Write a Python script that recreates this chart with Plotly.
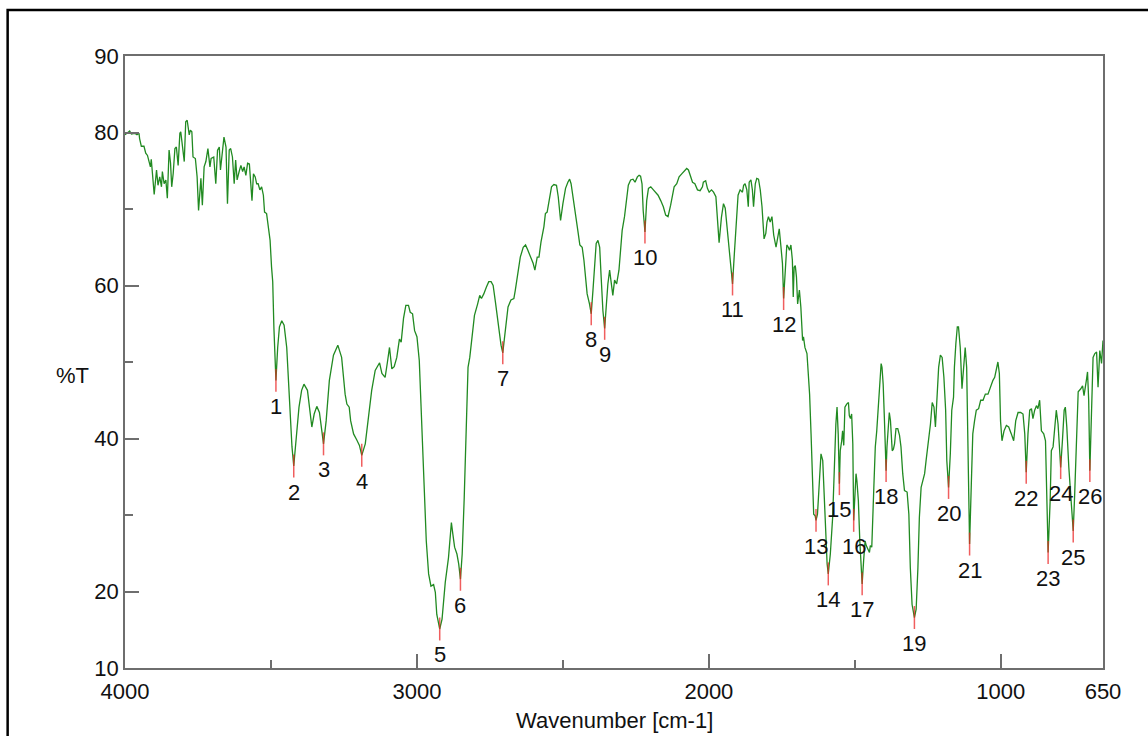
import plotly.graph_objects as go

# ---- spectrum data (wavenumber in cm-1, transmittance in %T) ----
wavenumber = [
    4000, 3984, 3978, 3967, 3959, 3952, 3950, 3944, 3935, 3929, 3923, 3918, 3913, 3910, 3904, 3900,
    3892, 3887, 3881, 3875, 3872, 3866, 3860, 3855, 3849, 3844, 3840, 3835, 3829, 3824, 3818, 3812,
    3809, 3803, 3797, 3792, 3787, 3780, 3776, 3771, 3767, 3759, 3753, 3748, 3744, 3740, 3735, 3729,
    3723, 3716, 3709, 3705, 3696, 3689, 3683, 3677, 3673, 3666, 3661, 3654, 3649, 3643, 3638, 3632,
    3626, 3621, 3616, 3609, 3603, 3597, 3592, 3586, 3580, 3574, 3570, 3565, 3560, 3554, 3549, 3544,
    3538, 3532, 3526, 3522, 3515, 3509, 3503, 3498, 3494, 3490,
    3487, 3483, 3477, 3471, 3463, 3455, 3446, 3435, 3428, 3422, 3414, 3404, 3395, 3387, 3375, 3368,
    3360, 3352, 3343, 3334, 3326, 3320, 3311, 3300, 3286, 3271, 3258, 3246, 3240, 3232, 3227, 3217,
    3206, 3197, 3189, 3177, 3166, 3155, 3143, 3135, 3128, 3120, 3109, 3101, 3094, 3086, 3078, 3069,
    3060, 3054, 3046, 3038, 3029, 3023, 3015, 3008, 3000, 2992, 2985, 2977, 2968, 2960, 2952, 2943,
    2937, 2932, 2922, 2914, 2903, 2892, 2882, 2877, 2871, 2863, 2857, 2851, 2845, 2838, 2831, 2825,
    2819, 2811, 2803, 2792, 2785, 2779, 2771, 2762, 2754, 2746, 2739, 2731, 2720, 2712, 2706, 2697,
    2688, 2678, 2668, 2663, 2655, 2646, 2636, 2628, 2620, 2611, 2602, 2596, 2588, 2582, 2575, 2565,
    2560, 2554, 2548, 2539, 2531, 2522, 2516, 2508, 2500, 2491, 2483, 2477, 2472, 2465, 2457, 2449,
    2442, 2434, 2428, 2423, 2417, 2409, 2403, 2397, 2392, 2386, 2380, 2374, 2369, 2363, 2357, 2352,
    2346, 2340, 2334, 2329, 2323, 2316, 2308, 2302, 2297, 2289, 2282, 2276, 2268, 2260, 2253, 2245,
    2239, 2234, 2229, 2225, 2219, 2213, 2207, 2199, 2190, 2182, 2174, 2165, 2156, 2148, 2140, 2131,
    2119, 2110, 2102, 2093, 2083, 2076, 2070, 2064, 2056, 2048, 2039, 2030, 2022, 2019, 2011, 2005,
    1999, 1991, 1984, 1976, 1971,
    1965, 1957, 1950, 1944, 1936, 1927, 1919, 1913, 1908, 1900, 1893, 1885, 1881, 1876, 1870, 1865,
    1862, 1856, 1851, 1847, 1841, 1836, 1830, 1824, 1818, 1811, 1805, 1801, 1796, 1790, 1784, 1778,
    1770, 1765, 1759, 1753, 1748, 1744, 1740, 1736, 1733, 1728, 1724, 1719, 1714, 1711, 1708, 1704,
    1700, 1696, 1690,
    1685, 1679, 1676, 1671, 1664, 1660, 1655, 1650, 1645, 1641, 1636, 1633, 1628, 1622, 1616, 1610,
    1607, 1601, 1595, 1591, 1584, 1576, 1570, 1565, 1561, 1557, 1553, 1550, 1545, 1542, 1538, 1534,
    1528, 1522, 1519, 1515, 1511, 1507, 1504, 1499, 1496, 1493, 1488, 1483, 1479, 1475, 1470, 1465,
    1461, 1456, 1450, 1447, 1442, 1435, 1430, 1425, 1419, 1415, 1410, 1407, 1403, 1399, 1393, 1390,
    1385, 1382, 1378, 1372, 1368, 1364, 1359, 1353, 1347, 1342, 1336, 1330, 1321, 1315, 1310, 1304,
    1296, 1290, 1284, 1279, 1273, 1267, 1261, 1256, 1250, 1241, 1235, 1229, 1224, 1219, 1213, 1207,
    1201, 1195, 1189, 1185, 1179, 1173, 1168, 1162, 1159, 1154, 1149, 1145, 1139, 1133, 1128, 1122,
    1117, 1113, 1107, 1101, 1096, 1090, 1084, 1076, 1069, 1061, 1053, 1044, 1035, 1027, 1021, 1016,
    1010, 1005, 1001, 996, 989, 981, 973, 964, 956, 949, 941, 932, 924, 918, 913, 907,
    901, 895, 890, 884, 878, 873, 867, 861, 853, 847, 842, 838, 831, 827, 821, 815,
    810, 804, 795, 789, 783, 779, 774, 767, 760, 755, 752, 747, 741, 735, 726, 720,
    715, 710, 707, 703, 699, 695, 690, 684, 678, 672, 667, 661, 655, 650,
]

transmittance = [
    79.7, 80.2, 79.8, 79.9, 79.7, 79.9, 79.2, 78.2, 78.2, 77.3, 77.0, 76.2, 75.5, 76.5, 74.2, 71.9,
    75.1, 73.1, 74.2, 72.9, 74.9, 73.3, 73.8, 71.4, 77.7, 76.0, 72.9, 74.6, 77.9, 78.1, 75.7, 79.9,
    80.1, 77.7, 76.2, 81.4, 81.6, 79.7, 80.3, 80.1, 76.8, 76.6, 74.2, 69.8, 72.9, 74.0, 70.5, 75.5,
    76.2, 77.9, 75.5, 76.6, 76.8, 73.3, 77.7, 78.1, 75.1, 77.3, 79.4, 78.1, 70.7, 77.7, 77.9, 76.8,
    73.3, 76.4, 73.8, 74.9, 75.7, 74.9, 75.5, 74.4, 76.0, 75.9, 74.2, 71.1, 74.6, 74.2, 73.3, 73.3,
    72.5, 72.9, 71.8, 69.6, 69.4, 67.7, 65.9, 62.4, 60.5, 54.5,
    50.6, 47.6, 51.9, 54.6, 55.4, 54.8, 51.9, 43.2, 38.9, 36.4, 39.7, 44.1, 46.3, 47.1, 46.3, 44.1,
    41.5, 43.2, 44.2, 43.4, 41.0, 39.3, 42.3, 47.6, 50.9, 52.2, 50.6, 45.8, 44.5, 44.1, 42.3, 40.6,
    39.8, 39.1, 37.8, 39.3, 42.8, 46.3, 48.9, 49.4, 49.9, 48.5, 48.0, 50.0, 51.9, 49.1, 49.4, 50.6,
    53.0, 52.6, 55.7, 57.4, 57.4, 56.5, 56.3, 54.1, 53.3, 50.2, 43.2, 34.5, 26.6, 22.3, 20.7, 20.9,
    19.9, 17.0, 15.1, 16.4, 21.2, 24.4, 29.0, 27.5, 25.8, 24.9, 23.6, 21.6, 24.9, 32.3, 43.2, 49.3,
    50.6, 53.3, 56.1, 57.6, 58.7, 58.3, 58.9, 59.8, 60.5, 60.5, 60.0, 57.8, 54.1, 52.2, 51.2, 54.6,
    57.2, 58.1, 58.3, 59.4, 61.5, 63.7, 65.0, 65.3, 64.6, 63.7, 62.9, 62.0, 63.7, 63.7, 65.7, 67.7,
    69.4, 69.6, 71.1, 72.9, 73.2, 73.1, 71.6, 68.5, 70.7, 72.7, 73.5, 73.9, 73.3, 71.6, 69.4, 67.2,
    65.3, 65.0, 63.3, 60.7, 58.9, 57.6, 56.3, 59.4, 62.9, 65.5, 65.9, 65.0, 61.1, 56.7, 54.4, 57.2,
    60.2, 62.0, 60.2, 58.7, 60.7, 60.2, 62.0, 65.0, 67.2, 69.0, 71.6, 73.1, 73.8, 73.9, 73.5, 74.2,
    74.4, 74.3, 73.3, 69.8, 67.0, 71.1, 72.7, 72.9, 72.5, 72.2, 71.8, 71.1, 70.3, 69.2, 69.0, 70.5,
    72.9, 73.3, 74.2, 74.6, 75.1, 75.3, 75.1, 74.4, 73.5, 73.3, 72.5, 72.4, 72.9, 73.5, 73.7, 72.7,
    72.2, 72.5, 72.2, 71.6, 68.3,
    65.6, 68.9, 70.7, 70.1, 66.8, 63.3, 60.2, 64.0, 67.5, 71.8, 72.5, 72.2, 73.1, 73.3, 72.5, 70.3,
    73.5, 73.8, 72.5, 70.3, 73.3, 74.0, 73.9, 72.5, 70.3, 66.1, 66.8, 68.3, 69.0, 68.3, 69.0, 66.6,
    65.0, 66.1, 67.4, 65.0, 62.9, 58.3, 61.1, 64.2, 65.3, 65.0, 64.6, 65.3, 63.3, 58.5, 62.4, 62.6,
    61.1, 57.6, 59.4,
    57.2, 52.8, 53.3, 51.9, 51.1, 48.9, 45.8, 40.6, 34.1, 30.1, 29.9, 29.3, 30.1, 34.5, 38.0, 37.1,
    34.5, 27.5, 23.6, 22.3, 24.9, 29.7, 37.1, 41.9, 44.1, 40.6, 34.1, 38.4, 39.7, 41.0, 39.1, 44.1,
    44.5, 44.7, 43.0, 42.6, 43.2, 39.3, 29.3, 33.6, 35.4, 34.5, 31.9, 26.6, 23.1, 21.0, 24.0, 26.6,
    26.0, 25.5, 25.1, 26.0, 25.8, 33.6, 38.9, 41.0, 44.1, 46.9, 49.8, 49.3, 47.1, 42.8, 35.8, 38.9,
    42.3, 43.4, 42.3, 38.4, 38.6, 39.3, 41.3, 41.3, 40.4, 38.9, 35.4, 33.2, 33.0, 30.1, 23.1, 18.3,
    16.6, 17.7, 23.1, 29.7, 33.6, 34.5, 35.4, 37.1, 38.9, 41.9, 44.7, 44.1, 41.5, 45.0, 49.3, 50.9,
    50.6, 48.0, 43.7, 37.1, 33.6, 38.0, 43.7, 45.4, 49.3, 52.4, 54.6, 54.6, 51.9, 46.5, 49.3, 51.9,
    49.3, 38.4, 26.2, 34.1, 40.6, 42.3, 43.7, 43.9, 45.0, 45.0, 45.8, 45.8, 46.9, 47.6, 48.0, 49.1,
    50.0, 48.5, 42.3, 39.7, 41.0, 41.7, 41.5, 40.6, 39.7, 42.3, 43.4, 43.4, 43.2, 40.6, 35.6, 40.6,
    43.7, 43.9, 42.6, 43.7, 44.3, 43.9, 45.0, 41.0, 40.6, 39.7, 32.7, 25.1, 31.9, 38.4, 38.9, 42.3,
    43.7, 41.9, 36.2, 39.7, 43.7, 44.1, 41.5, 36.2, 32.7, 29.7, 27.9, 32.7, 40.6, 46.1, 46.5, 46.9,
    45.6, 47.4, 47.6, 48.7, 45.0, 35.8, 44.5, 50.6, 51.1, 51.3, 46.7, 51.5, 49.8, 52.8,
]

# ---- picked peaks ----
peak_labels = [str(i) for i in range(1, 27)]
peak_wn = [3483, 3422, 3320, 3189, 2922, 2851, 2706, 2403, 2357, 2219, 1919, 1744, 1633,
           1591, 1553, 1504, 1475, 1393, 1296, 1179, 1107, 913, 838, 795, 752, 695]
peak_T = [47.6, 36.4, 39.3, 37.8, 15.1, 21.6, 51.2, 56.3, 54.4, 67.0, 60.2, 58.3, 29.3,
          22.3, 34.1, 29.3, 21.0, 35.8, 16.6, 33.6, 26.2, 35.6, 25.1, 36.2, 27.9, 35.8]

x_tickvals = [4000, 3000, 2000, 1000, 650]
x_minor = [3500, 2500, 1500]
y_tickvals = [10, 20, 40, 60, 80, 90]
y_minor = [30, 50, 70]

MARK = 1.5  # half-length of peak marker in %T units

FONT = "Liberation Sans, Arial, Helvetica, sans-serif"
FS = 22

fig = go.Figure()
fig.add_trace(go.Scatter(x=wavenumber, y=transmittance, mode="lines",
                         line=dict(color="#218a21", width=1.3), hoverinfo="skip"))

mx, my = [], []
for w, t in zip(peak_wn, peak_T):
    mx += [w, w, None]
    my += [t + MARK, t - MARK, None]
fig.add_trace(go.Scatter(x=mx, y=my, mode="lines",
                         line=dict(color="rgba(235,40,40,0.75)", width=1.5), hoverinfo="skip"))

for lab, w, t in zip(peak_labels, peak_wn, peak_T):
    fig.add_annotation(x=w, y=t - MARK, text=lab, showarrow=False, xanchor="center",
                       yanchor="top", yshift=0, font=dict(size=FS, color="#111", family=FONT))

axis_col = "#6e6e6e"
fig.update_xaxes(range=[4000, 650], autorange=False, tickvals=x_tickvals,
                 ticktext=[str(v) for v in x_tickvals], ticks="inside", ticklen=14,
                 tickwidth=1.5, tickcolor=axis_col, showline=True, linecolor=axis_col,
                 linewidth=1.5, mirror=True, showgrid=False, zeroline=False,
                 tickfont=dict(size=FS, color="#111", family=FONT), ticklabelstandoff=3,
                 minor=dict(tickvals=x_minor, ticks="inside", ticklen=8, tickwidth=1.5,
                            tickcolor=axis_col, showgrid=False))
fig.update_yaxes(range=[10, 90], autorange=False, tickvals=y_tickvals,
                 ticks="inside", ticklen=14, tickwidth=1.5, tickcolor=axis_col,
                 showline=True, linecolor=axis_col, linewidth=1.5, mirror=True,
                 showgrid=False, zeroline=False,
                 tickfont=dict(size=FS, color="#111", family=FONT), ticklabelstandoff=0,
                 minor=dict(tickvals=y_minor, ticks="inside", ticklen=8, tickwidth=1.5,
                            tickcolor=axis_col, showgrid=False))

fig.add_annotation(xref="paper", yref="paper", x=-0.054, y=0.478, text="%T", showarrow=False,
                   xanchor="center", yanchor="middle", font=dict(size=FS, color="#111", family=FONT))
fig.add_annotation(xref="paper", yref="paper", x=0.501, y=-0.086, text="Wavenumber [cm-1]",
                   showarrow=False, xanchor="center", yanchor="middle",
                   font=dict(size=FS, color="#111", family=FONT))

# outer frame
fig.add_shape(type="rect", xref="paper", yref="paper", x0=-0.12, x1=1.08, y0=-0.15, y1=1.0752,
              line=dict(color="black", width=2.5), fillcolor="rgba(0,0,0,0)", layer="above")

fig.update_layout(width=1148, height=736, margin=dict(l=125, r=45, t=56, b=68),
                  paper_bgcolor="white", plot_bgcolor="white", showlegend=False,
                  font=dict(family=FONT))

fig.write_html("out.html")
